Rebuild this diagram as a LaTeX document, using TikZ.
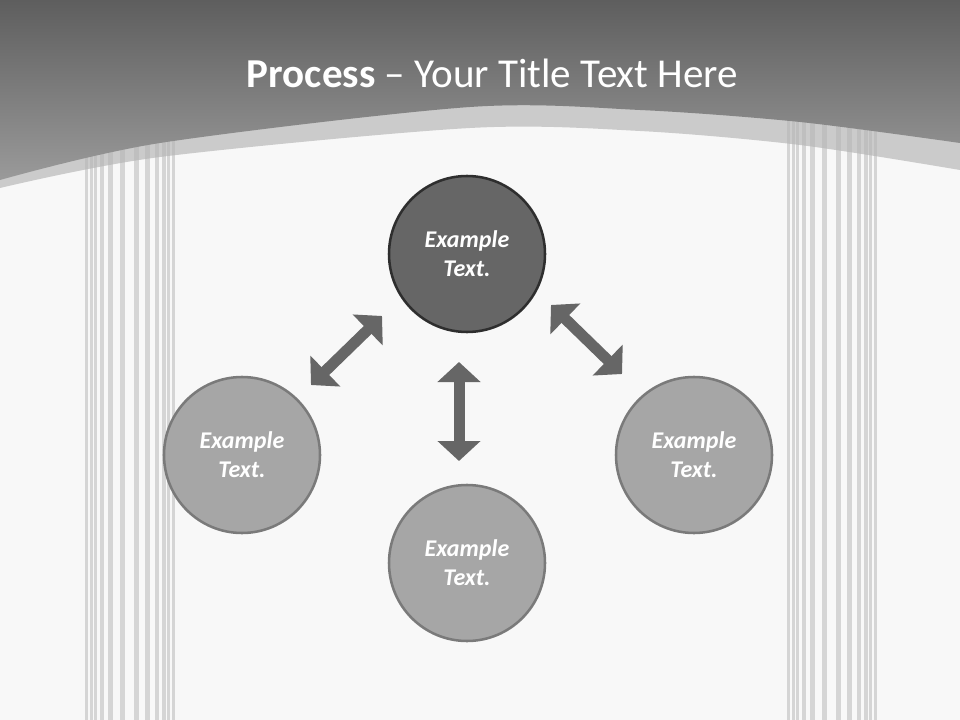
\documentclass[tikz,border=0pt]{standalone}
\usepackage{fontspec}
\setmainfont{Carlito}
\usetikzlibrary{arrows.meta}
\definecolor{bgc}{HTML}{F8F8F8}
\definecolor{bandc}{HTML}{CBCBCB}
\definecolor{darktop}{HTML}{5E5E5E}
\definecolor{darkbot}{HTML}{9A9A9A}
\definecolor{stripec}{HTML}{B4B4B4}
\definecolor{arrowc}{HTML}{666666}
\definecolor{mainfill}{HTML}{666666}
\definecolor{mainline}{HTML}{2E2E2E}
\definecolor{subfill}{HTML}{A6A6A6}
\definecolor{subline}{HTML}{7A7A7A}
\tikzset{
  circbase/.style={circle, minimum size=117pt, inner sep=0pt, line width=1.9pt,
    text=white, align=center, font=\fontsize{18pt}{21.7pt}\selectfont\bfseries\itshape},
  maincirc/.style={circbase, fill=mainfill, draw=mainline},
  subcirc/.style={circbase, fill=subfill, draw=subline},
  blockarrow/.style={draw=arrowc, line width=8.25pt,
    {Triangle[length=15pt,width=31.5pt]}-{Triangle[length=15pt,width=31.5pt]}},
  stripe/.style={fill=stripec, opacity=0.5}
}
\begin{document}
\begin{tikzpicture}[x=0.75pt,y=-0.75pt]
\useasboundingbox (0,0) rectangle (960,720);
\fill[bgc] (0,0) rectangle (960,720);
% light band
\fill[bandc] (0,0) -- (960,0) --
  plot[smooth] coordinates {(960,170) (800,145) (640,131) (470,128) (160,157) (0,188)} -- cycle;
% stripes
\foreach \ox in {85,787} {
  \foreach \a/\w in {0/2.5,5/2.5,9/3,15/3.5,23/5,35/5,49/5,60/5,70/3.5,77/3.5,82/3,87/2.5} {
    \fill[stripe] (\ox+\a,100) rectangle (\ox+\a+\w,720);
  }
}
% dark header
\shade[top color=darktop, bottom color=darkbot] (0,0) -- (960,0) --
  plot[smooth] coordinates {(960,143) (800,122) (640,110) (470,107) (160,143) (0,180)} -- cycle;
% title
\node[anchor=base, text=white, font=\fontsize{30.8pt}{37pt}\selectfont, inner sep=0pt] (title) at (492.5,88)
  {\textbf{Process} – Your Title Text Here};
% circles
\node[maincirc] (top) at (467,254) {Example\\Text.};
\node[subcirc] (left) at (242,455) {Example\\Text.};
\node[subcirc] (right) at (694,455) {Example\\Text.};
\node[subcirc] (bottom) at (467,563) {Example\\Text.};
% arrows
\coordinate (va) at (459,362);
\coordinate (vb) at (459,461);
\coordinate (la) at (382,316);
\coordinate (lb) at (311,385);
\coordinate (ra) at (551,305);
\coordinate (rb) at (622,374);
\draw[blockarrow] (va) -- (vb);
\draw[blockarrow] (la) -- (lb);
\draw[blockarrow] (ra) -- (rb);
\end{tikzpicture}
\end{document}
